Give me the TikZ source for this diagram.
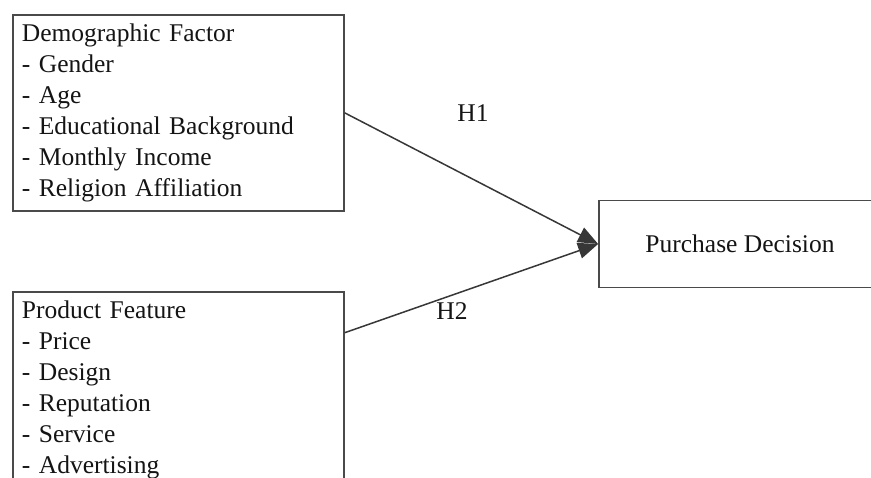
\documentclass[tikz,border=0pt]{standalone}
\usepackage{fontspec}
\setmainfont{Liberation Serif}
\usepackage{tikz}
\usetikzlibrary{calc,positioning,arrows.meta}
\definecolor{boxgray}{HTML}{4A4A4A}
\definecolor{inkblack}{HTML}{141414}

\begin{document}
\begin{tikzpicture}[
    x=1pt, y=-1pt,
    factor box/.style={draw=boxgray, line width=1.8pt, text=inkblack,
        text width=313pt, align=left, inner xsep=9pt, inner ysep=0pt,
        minimum height=196pt, font=\fontsize{25.5}{31}\selectfont},
    decision box/.style={draw=boxgray, line width=1.8pt, text=inkblack,
        minimum width=282pt, minimum height=87pt,
        font=\fontsize{25.5}{31}\selectfont},
    link/.style={draw=inkblack!85, line width=1.5pt,
        -{Triangle[length=20pt,width=16pt]}},
    hyp/.style={text=inkblack, font=\fontsize{25.5}{31}\selectfont},
    every node/.style={color=black}
    ]
    \useasboundingbox (0,0) rectangle (871,478);
    \clip (0,0) rectangle (871,478);
    % Boxes
    \node[factor box, anchor=north west] (dem) at (12,14)
        {Demographic Factor\\- Gender\\- Age\\- Educational Background\\
         - Monthly Income\\- Religion Affiliation};
    \node[factor box, below=79pt of dem] (prod)
        {Product Feature\\- Price\\- Design\\- Reputation\\- Service\\
         - Advertising};
    \node[decision box] (pd) at (740,244) {Purchase Decision};
    % Hypotheses
    \coordinate (prodout) at ([yshift=57pt]prod.east);
    \draw[link] (dem.east) -- (pd.west);
    \draw[link] (prodout) -- (pd.west);
    \node[hyp] (h1) at (473,113) {H1};
    \node[hyp] (h2) at (452,311) {H2};
\end{tikzpicture}
\end{document}
